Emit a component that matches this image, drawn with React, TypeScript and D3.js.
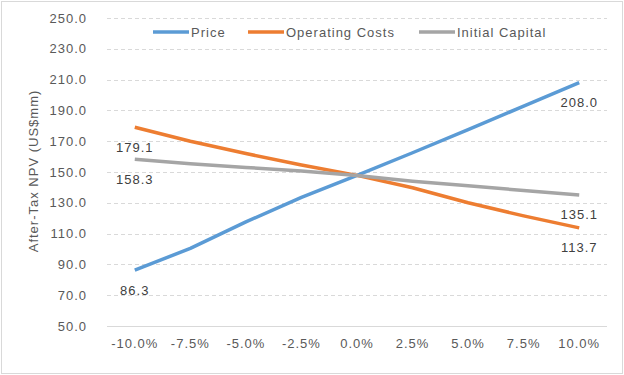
import React from "react";
import * as d3 from "d3";

const categories = ["-10.0%", "-7.5%", "-5.0%", "-2.5%", "0.0%", "2.5%", "5.0%", "7.5%", "10.0%"];
const priceValues = [86.3, 100.4, 117.6, 133.5, 147.8, 162.5, 177.5, 192.8, 208.0];
const opCostValues = [179.1, 170.0, 162.0, 154.5, 147.8, 139.8, 130.0, 121.5, 113.7];
const capitalValues = [158.3, 155.3, 153.0, 150.6, 147.8, 144.0, 141.0, 138.0, 135.1];
const seriesNames = ["Price", "Operating Costs", "Initial Capital"];
const yTicks = [50, 70, 90, 110, 130, 150, 170, 190, 210, 230, 250];
const yTitle = "After-Tax NPV (US$mm)";

const W = 624;
const H = 375;
const left = 107;
const right = 607;
const top = 18;
const bottom = 326;
const font = "Arial, 'Liberation Sans', sans-serif";
const textColor = "#595959";

export default function App() {
  const x = d3.scalePoint<string>().domain(categories).range([left, right]).padding(0.5);
  const y = d3.scaleLinear().domain([50, 250]).range([bottom, top]);
  const line = d3
    .line<number>()
    .x((_, i) => x(categories[i]) as number)
    .y((d) => y(d));

  const series = [
    { name: seriesNames[0], values: priceValues, color: "#5B9BD5" },
    { name: seriesNames[1], values: opCostValues, color: "#ED7D31" },
    { name: seriesNames[2], values: capitalValues, color: "#A5A5A5" },
  ];

  const legend = [
    { x1: 153, tx: 191 },
    { x1: 248, tx: 286 },
    { x1: 419, tx: 457 },
  ];

  const endLabels: { v: number; i: number }[] = [];
  series.forEach((s) => {
    endLabels.push({ v: s.values[0], i: 0 });
    endLabels.push({ v: s.values[s.values.length - 1], i: s.values.length - 1 });
  });

  return (
    <svg
      width={W}
      height={H}
      style={{ position: "absolute", left: 0, top: 0, background: "#fff" }}
      fontFamily={font}
    >
      <rect x={0} y={0} width={W} height={H} fill="#fff" />
      <rect x={1.5} y={1.5} width={W - 3} height={H - 3} fill="none" stroke="#d9d9d9" />
      {yTicks.map((t) => (
        <g key={t}>
          {t !== 50 && (
            <line
              x1={left}
              x2={right}
              y1={Math.round(y(t)) + 0.5}
              y2={Math.round(y(t)) + 0.5}
              stroke="#d9d9d9"
              strokeDasharray="4,3"
            />
          )}
          <text
            x={87}
            y={y(t)}
            dy="0.35em"
            textAnchor="end"
            fontSize={13}
            letterSpacing={1}
            fill={textColor}
          >
            {t.toFixed(1)}
          </text>
        </g>
      ))}
      <line x1={left} x2={right} y1={bottom + 0.5} y2={bottom + 0.5} stroke="#d9d9d9" />
      {categories.map((c) => (
        <text
          key={c}
          x={x(c)}
          y={343}
          dy="0.35em"
          textAnchor="middle"
          fontSize={13}
          letterSpacing={1}
          fill={textColor}
        >
          {c}
        </text>
      ))}
      <text
        transform={`translate(33,${171}) rotate(-90)`}
        textAnchor="middle"
        dy="0.35em"
        fontSize={13}
        letterSpacing={1}
        fill={textColor}
      >
        {yTitle}
      </text>
      {series.map((s) => (
        <path
          key={s.name}
          d={line(s.values) || ""}
          fill="none"
          stroke={s.color}
          strokeWidth={3.5}
          strokeLinejoin="round"
        />
      ))}
      {endLabels.map((l, k) => (
        <text
          key={k}
          x={x(categories[l.i])}
          y={y(l.v) + 20}
          dy="0.35em"
          textAnchor="middle"
          fontSize={13}
          letterSpacing={1}
          fill="#404040"
        >
          {l.v.toFixed(1)}
        </text>
      ))}
      {series.map((s, i) => (
        <g key={s.name}>
          <line
            x1={legend[i].x1}
            x2={legend[i].x1 + 36}
            y1={32}
            y2={32}
            stroke={s.color}
            strokeWidth={3.5}
          />
          <text
            x={legend[i].tx}
            y={32}
            dy="0.35em"
            fontSize={13}
            letterSpacing={1}
            fill={textColor}
          >
            {s.name}
          </text>
        </g>
      ))}
    </svg>
  );
}
